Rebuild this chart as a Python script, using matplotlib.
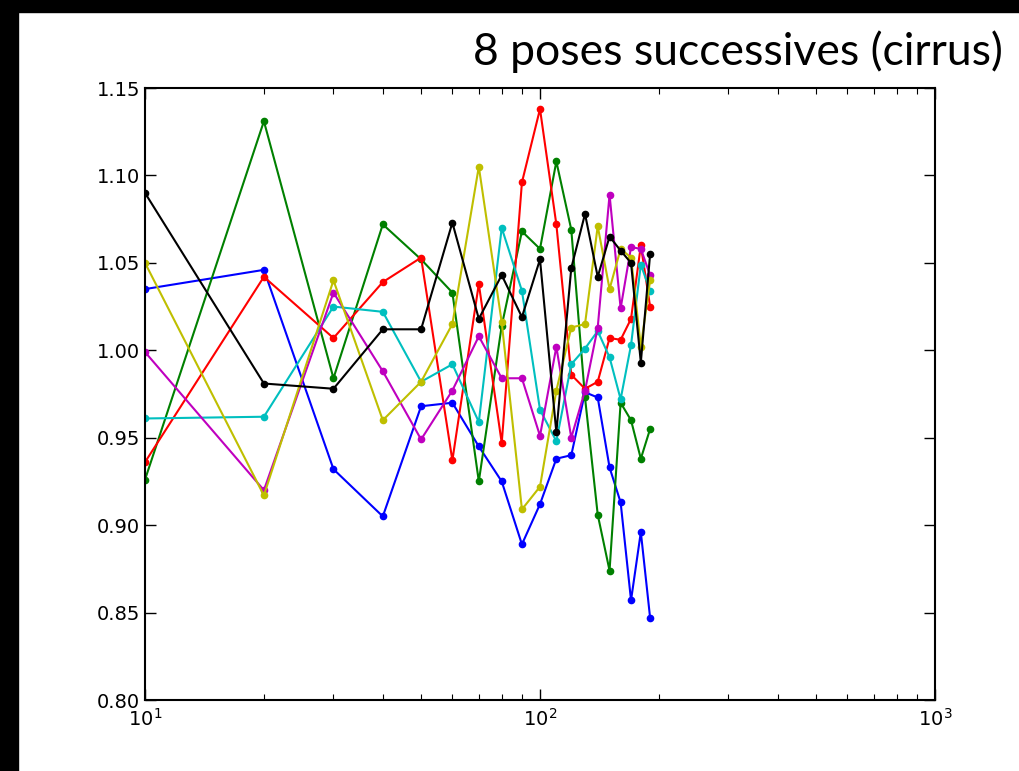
import matplotlib
matplotlib.use("Agg")
import matplotlib.pyplot as plt
from matplotlib.patches import Rectangle

# -------------------------------
# Data
# -------------------------------
x = [10, 20, 30, 40, 50, 60, 70, 80, 90, 100,
     110, 120, 130, 140, 150, 160, 170, 180, 190]

blue = [1.035, 1.046, 0.932, 0.905, 0.968, 0.970, 0.945, 0.925, 0.889, 0.912,
        0.938, 0.940, 0.976, 0.973, 0.933, 0.913, 0.857, 0.896, 0.847]
green = [0.926, 1.131, 0.984, 1.072, 1.052, 1.033, 0.925, 1.014, 1.068, 1.058,
         1.108, 1.069, 0.973, 0.906, 0.874, 0.970, 0.960, 0.938, 0.955]
red = [0.936, 1.042, 1.007, 1.039, 1.053, 0.937, 1.038, 0.947, 1.096, 1.138,
       1.072, 0.986, 0.978, 0.982, 1.007, 1.006, 1.018, 1.060, 1.025]
cyan = [0.961, 0.962, 1.025, 1.022, 0.982, 0.992, 0.959, 1.070, 1.034, 0.966,
        0.948, 0.992, 1.001, 1.011, 0.996, 0.972, 1.003, 1.049, 1.034]
magenta = [0.999, 0.920, 1.033, 0.988, 0.949, 0.977, 1.008, 0.984, 0.984, 0.951,
           1.002, 0.950, 0.977, 1.013, 1.089, 1.024, 1.059, 1.058, 1.043]
yellow = [1.050, 0.917, 1.040, 0.960, 0.982, 1.015, 1.105, 1.016, 0.909, 0.922,
          0.977, 1.013, 1.015, 1.071, 1.035, 1.058, 1.053, 1.002, 1.040]
black = [1.090, 0.981, 0.978, 1.012, 1.012, 1.073, 1.018, 1.043, 1.019, 1.052,
         0.953, 1.047, 1.078, 1.042, 1.065, 1.057, 1.050, 0.993, 1.055]

series = [(blue, 'b'), (green, 'g'), (red, 'r'), (cyan, 'c'),
          (magenta, 'm'), (yellow, 'y'), (black, 'k')]
classic = {'b': '#0000ff', 'g': '#008000', 'r': '#ff0000', 'c': '#00bfbf',
           'm': '#bf00bf', 'y': '#bfbf00', 'k': '#000000'}

# -------------------------------
# Plot
# -------------------------------
fig = plt.figure(figsize=(10.19, 7.71), dpi=100)
fig.patch.set_facecolor('white')

# black slide border (top and left)
fig.patches.append(Rectangle((0, 1 - 12 / 771), 1, 12 / 771,
                             transform=fig.transFigure, color='black', zorder=0))
fig.patches.append(Rectangle((0, 0), 18 / 1019, 1,
                             transform=fig.transFigure, color='black', zorder=0))

ax = fig.add_axes([145 / 1019, 71 / 771, 790 / 1019, 612 / 771])
for vals, c in series:
    ax.plot(x, vals, '-o', color=classic[c], lw=1.5, ms=4.5,
            markeredgecolor=classic[c])

ax.set_xscale('log')
ax.set_xlim(10, 1000)
ax.set_ylim(0.80, 1.15)
ax.set_yticks([0.80, 0.85, 0.90, 0.95, 1.00, 1.05, 1.10, 1.15])
ax.yaxis.set_major_formatter(matplotlib.ticker.FormatStrFormatter('%.2f'))

for s in ax.spines.values():
    s.set_linewidth(1.5)
ax.tick_params(which='both', direction='in', top=True, right=True,
               labelsize=14)
ax.tick_params(which='major', length=8, width=1)
ax.tick_params(which='minor', length=4, width=0.8)
ax.tick_params(axis='x', pad=6)

fig.text(1003 / 1019, 1 - 65 / 771, "8 poses successives (cirrus)",
         ha='right', va='baseline', fontsize=32, family='Lato')

fig.savefig("out.png", dpi=100)
plt.close()
